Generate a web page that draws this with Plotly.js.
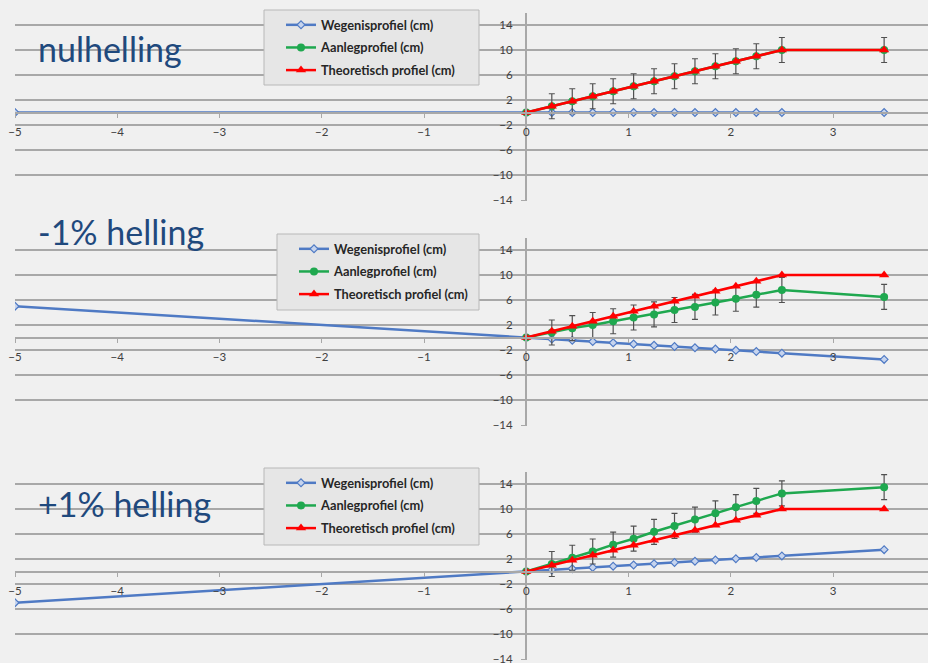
<!DOCTYPE html>
<html>
<head>
<meta charset="utf-8">
<script src="https://cdn.plot.ly/plotly-3.0.1.min.js"></script>
<style>
html,body{margin:0;padding:0;background:#f0f0f0;}
#chart{width:928px;height:663px;}
</style>
</head>
<body>
<div id="chart"></div>
<script>
// ---- data ----
const panelTitles = ["nulhelling", "-1% helling", "+1% helling"];
const seriesNames = ["Wegenisprofiel (cm)", "Aanlegprofiel (cm)", "Theoretisch profiel (cm)"];

const xWeg = [-5, 0, 0.25, 0.45, 0.65, 0.85, 1.05, 1.25, 1.45, 1.65, 1.85, 2.05, 2.25, 2.5, 3.5];
const xProf = [0, 0.25, 0.45, 0.65, 0.85, 1.05, 1.25, 1.45, 1.65, 1.85, 2.05, 2.25, 2.5, 3.5];

const theoretisch = [0, 1, 1.8, 2.6, 3.4, 4.2, 5, 5.8, 6.6, 7.4, 8.2, 9, 10, 10];
const foutmarge = [0, 2, 2, 2, 2, 2, 2, 2, 2, 2, 2, 2, 2, 2];

// nulhelling
const weg0 = [0, 0, 0, 0, 0, 0, 0, 0, 0, 0, 0, 0, 0, 0, 0];
const aanleg0 = [0, 1, 1.8, 2.6, 3.4, 4.2, 5, 5.8, 6.6, 7.4, 8.2, 9, 10, 10];
// -1% helling
const wegMin = [5, 0, -0.25, -0.45, -0.65, -0.85, -1.05, -1.25, -1.45, -1.65, -1.85, -2.05, -2.25, -2.5, -3.5];
const aanlegMin = [0, 0.8, 1.5, 2.0, 2.6, 3.2, 3.7, 4.4, 4.9, 5.6, 6.2, 6.85, 7.6, 6.5];
// +1% helling
const wegPlus = [-5, 0, 0.25, 0.45, 0.65, 0.85, 1.05, 1.25, 1.45, 1.65, 1.85, 2.05, 2.25, 2.5, 3.5];
const aanlegPlus = [0, 1.2, 2.2, 3.2, 4.3, 5.25, 6.35, 7.3, 8.3, 9.3, 10.3, 11.3, 12.5, 13.5];

const xTicks = [-5, -4, -3, -2, -1, 0, 1, 2, 3];
const yTicks = [-14, -10, -6, -2, 2, 6, 10, 14];

// ---- styling / layout ----
const W = 928, H = 663;
const BLUE = "#4f7ac4", GREEN = "#1fa84f", RED = "#ff0000";
const GRID = "#a8a8a8";
const FONT = "Lato, 'Noto Sans', sans-serif";

const panels = [
  {weg: weg0, aanleg: aanleg0, y0: 112.5, title: 49, box: [264, 10, 479, 85]},
  {weg: wegMin, aanleg: aanlegMin, y0: 337.5, title: 231, box: [277, 234, 479, 310]},
  {weg: wegPlus, aanleg: aanlegPlus, y0: 571.5, title: 503, box: [264, 468, 479, 545]}
];
const pxPerY = 6.25;
const yLo = -14.1, yHi = 16;
const xLeftPx = 15, pxPerX = 102.25, xZeroPx = 526;
const xMax = -5 + (W - xLeftPx) / pxPerX;

const traces = [];
const layout = {
  width: W, height: H,
  margin: {l: 0, r: 0, t: 0, b: 0},
  paper_bgcolor: "#f0f0f0", plot_bgcolor: "rgba(0,0,0,0)",
  font: {family: FONT, color: "#404040", size: 11},
  showlegend: true,
  annotations: [],
  shapes: []
};

panels.forEach((p, i) => {
  const sfx = i === 0 ? "" : String(i + 1);
  const xa = "x" + sfx, ya = "y" + sfx;
  const legName = "legend" + sfx;
  const topPx = p.y0 - yHi * pxPerY, botPx = p.y0 - yLo * pxPerY;
  const b = p.box;

  layout["xaxis" + sfx] = {
    domain: [xLeftPx / W, 1], range: [-5, xMax],
    anchor: "free", position: (H - p.y0) / H,
    tickvals: xTicks, ticks: "outside", ticklen: 4, tickcolor: GRID, tickwidth: 1,
    ticklabelstandoff: 5,
    showgrid: false, zeroline: false, showline: true, linecolor: GRID, linewidth: 2,
    tickfont: {family: FONT, size: 11.5, color: "#404040"}, fixedrange: true
  };
  layout["yaxis" + sfx] = {
    domain: [(H - botPx) / H, (H - topPx) / H], range: [yLo, yHi],
    anchor: "free", position: xZeroPx / W,
    tickvals: yTicks, ticks: "outside", ticklen: 4, tickcolor: GRID, tickwidth: 1,
    ticklabelstandoff: 6, ticklabeloverflow: "allow",
    showgrid: true, gridcolor: GRID, gridwidth: 2,
    zeroline: false, showline: true, linecolor: GRID, linewidth: 2,
    tickfont: {family: FONT, size: 11.5, color: "#404040"}, fixedrange: true
  };
  // legend frame
  layout.shapes.push({
    type: "rect", xref: "paper", yref: "paper", layer: "above",
    x0: b[0] / W, x1: b[2] / W, y0: (H - b[3]) / H, y1: (H - b[1]) / H,
    fillcolor: "#e6e6e6", line: {color: "#b8b8b8", width: 1}
  });
  layout[legName] = {
    x: (b[0] + 17) / W, y: (H - b[1]) / H, xanchor: "left", yanchor: "top",
    bgcolor: "rgba(0,0,0,0)", borderwidth: 0,
    font: {family: FONT, size: 12.8, color: "#262626", weight: "bold"},
    tracegroupgap: 3, traceorder: "grouped", itemwidth: 30
  };
  layout.annotations.push({
    xref: "paper", yref: "paper", x: 36 / W, y: (H - p.title) / H,
    xanchor: "left", yanchor: "middle", showarrow: false,
    text: panelTitles[i],
    font: {family: FONT, size: 34, color: "#1f497d"}
  });

  traces.push({
    type: "scatter", mode: "lines+markers", name: seriesNames[0],
    x: xWeg, y: p.weg, xaxis: xa, yaxis: ya, legend: legName, legendgroup: "g" + i + "a",
    line: {color: BLUE, width: 2.5},
    marker: {symbol: "diamond", size: 6, color: "#c6d4ee", line: {color: BLUE, width: 1.2}}
  });
  traces.push({
    type: "scatter", mode: "lines+markers", name: seriesNames[1],
    x: xProf, y: p.aanleg, xaxis: xa, yaxis: ya, legend: legName, legendgroup: "g" + i + "b",
    line: {color: GREEN, width: 2.5},
    marker: {symbol: "circle", size: 8, color: GREEN},
    error_y: {type: "data", array: foutmarge, visible: true, color: "#505050", thickness: 1.2, width: 3}
  });
  traces.push({
    type: "scatter", mode: "lines+markers", name: seriesNames[2],
    x: xProf, y: theoretisch, xaxis: xa, yaxis: ya, legend: legName, legendgroup: "g" + i + "c",
    line: {color: RED, width: 2.5},
    marker: {symbol: "triangle-up", size: 9, color: RED}
  });
});

Plotly.newPlot("chart", traces, layout, {staticPlot: true, displayModeBar: false});
</script>
</body>
</html>
